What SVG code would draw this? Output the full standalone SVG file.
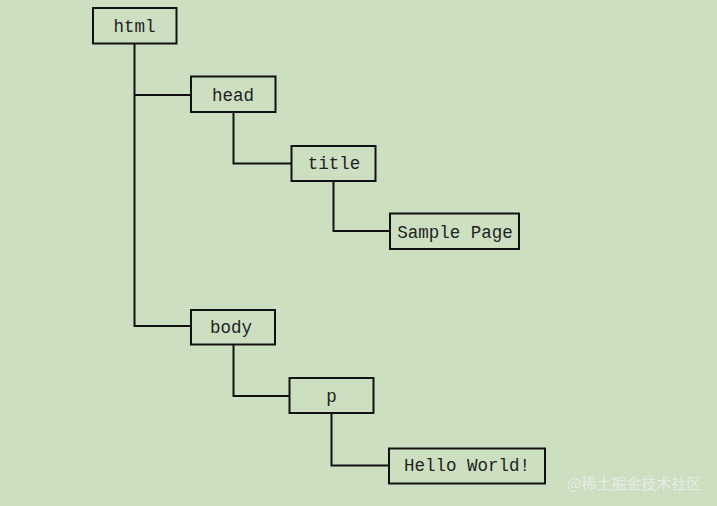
<svg xmlns="http://www.w3.org/2000/svg" width="717" height="506" viewBox="0 0 717 506">
<style>
.n rect{fill:#cddfc1;stroke:#111;stroke-width:2}
.n text{font-family:"Liberation Mono",monospace;font-size:17.5px;fill:#222;text-anchor:middle;dominant-baseline:central}
.c path{fill:none;stroke:#111;stroke-width:2}
.wm{font-family:"Noto Sans CJK SC",sans-serif;font-size:15px;fill:#e6ece2}
</style>
<rect width="717" height="506" fill="#cddfc1"/>
<g class="c">
<path d="M134.5 43.5V326H191"/>
<path d="M134.5 95H191"/>
<path d="M233.5 112V163.5H291.5"/>
<path d="M333.5 181V231H390"/>
<path d="M233.5 344.5V396H289.5"/>
<path d="M331.5 413V465.5H389"/>
</g>
<g class="n" id="html"><rect x="93" y="8" width="83.5" height="35.5"/><text x="134.5" y="26.5">html</text></g>
<g class="n" id="head"><rect x="191" y="76.5" width="84.5" height="35.5"/><text x="233" y="95.5">head</text></g>
<g class="n" id="title"><rect x="291.5" y="146" width="84" height="35"/><text x="334" y="164">title</text></g>
<g class="n" id="sample"><rect x="390" y="213.5" width="129" height="35.5"/><text x="455" y="232.5">Sample Page</text></g>
<g class="n" id="body"><rect x="191" y="310" width="84" height="34.5"/><text x="231" y="328">body</text></g>
<g class="n" id="p"><rect x="289.5" y="378" width="84" height="35"/><text x="331.5" y="397">p</text></g>
<g class="n" id="hello"><rect x="389" y="448.5" width="156" height="35"/><text x="467" y="466">Hello World!</text></g>
<text class="wm" x="567" y="489">@稀土掘金技术社区</text>
</svg>
